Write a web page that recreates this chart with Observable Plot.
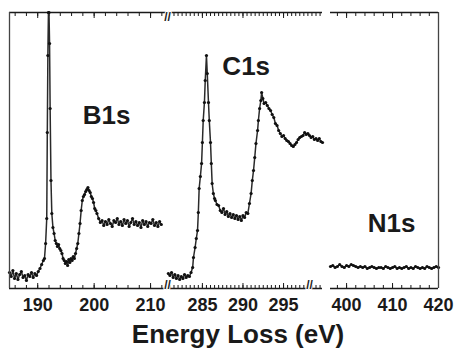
<!DOCTYPE html>
<html><head><meta charset="utf-8">
<script src="https://cdn.jsdelivr.net/npm/d3@7"></script>
<script src="https://cdn.jsdelivr.net/npm/@observablehq/plot@0.6"></script>
<style>
body{margin:0;background:#fff;}
#chart{position:relative;width:457px;height:350px;font-family:"Liberation Sans",Arial,sans-serif;overflow:hidden;}
.panel{position:absolute;top:0;}
#xlabel{position:absolute;left:0;width:476px;text-align:center;top:321px;font-size:26px;line-height:26px;font-weight:bold;color:#1a1a1a;}
</style></head><body>
<div id="chart"><div id="xlabel">Energy Loss (eV)</div></div>
<script>
// ---- data (intensity in arbitrary units) ----
const b1sEnergy = [185.0,185.3,185.6,185.9,186.2,186.5,186.8,187.1,187.4,187.7,188.0,188.3,188.6,188.9,189.2,189.5,189.8,190.1,190.4,190.7,191.0,
  191.2,191.4,191.6,191.7,191.8,191.9,192.0,192.1,192.2,192.35,192.5,192.7,192.9,
  193.1,193.3,193.5,193.7,193.9,194.1,194.3,194.5,194.7,194.9,195.1,195.3,195.5,195.7,195.9,196.1,196.3,196.5,196.7,196.9,197.1,197.3,197.5,197.7,197.9,198.1,198.3,198.5,198.7,198.9,199.1,199.3,199.5,199.7,199.9,200.1,200.3,200.5,
  200.8,201.1,201.4,201.7,202.0,202.3,202.6,202.9,203.2,203.5,203.8,204.1,204.4,204.7,205.0,205.3,205.6,205.9,206.2,206.5,206.8,207.1,207.4,207.7,208.0,208.3,208.6,208.9,209.2,209.5,209.8,210.1,210.4,210.7,211.0,211.3,211.6,211.9];
const b1sIntensity = [16,12,18,10,15,9,14,17,11,13,8,14,12,16,11,15,13,17,20,24,28,
  30,45,70,156,233,276,276,245,180,108,75,61,55,
  48,45,42,44,40,38,35,30,28,25,27,23,29,26,30,28,32,30,35,40,45,55,65,78,88,92,94,97,99,101,98,96,92,90,86,80,78,75,
  70,66,68,63,67,64,69,65,62,68,66,70,64,67,63,69,65,68,62,66,70,64,67,63,66,61,68,64,67,62,66,65,69,63,66,62,67,64];

const c1sEnergy = [280.8,281.0,281.2,281.4,281.6,281.8,282.0,282.2,282.4,282.6,282.8,283.0,283.2,283.4,283.6,283.8,
  283.9,284.1,284.25,284.4,284.5,284.6,284.75,284.9,285.0,285.1,285.25,285.35,285.5,285.6,285.75,285.85,286.0,286.1,286.2,286.35,286.5,286.6,
  286.8,287.0,287.2,287.4,287.6,287.8,288.0,288.2,288.4,288.6,288.8,289.0,289.2,289.4,289.6,289.8,290.0,290.2,290.4,290.6,290.8,291.0,
  291.15,291.3,291.45,291.6,291.8,291.9,292.05,292.2,292.3,292.45,292.6,
  292.8,293.0,293.2,293.4,293.6,293.8,294.0,294.2,294.4,294.6,294.8,295.0,295.2,295.4,295.6,295.8,296.0,296.2,296.4,296.6,296.8,297.0,297.2,297.4,297.6,297.8,298.0,298.2,298.4,298.6,298.8,299.0,299.2,299.4,299.6,299.8];
const c1sIntensity = [15,13,16,11,14,10,13,9,12,10,14,11,13,12,16,21,
  31,41,50,58,76,100,112,125,146,168,186,208,233,215,186,168,146,125,105,95,90,88,
  84,83,78,76,80,74,77,72,75,71,74,70,73,69,72,68,73,71,76,75,85,95,
  108,118,131,145,158,168,180,188,196,190,185,
  186,183,180,178,174,171,165,163,158,155,152,153,150,148,147,145,143,142,144,146,149,151,152,153,156,154,155,153,151,152,149,150,148,150,147,146];

const n1sEnergy = [396.5,397,397.5,398,398.5,399,399.5,400,400.5,401,401.5,402,402.5,403,403.5,404,404.5,405,405.5,406,406.5,407,407.5,408,408.5,409,409.5,410,410.5,411,411.5,412,412.5,413,413.5,414,414.5,415,415.5,416,416.5,417,417.5,418,418.5,419,419.5,420];
const n1sIntensity = [22,23,21,22,24,22,21,23,22,24,23,22,21,22,21,22,20,21,22,21,20,21,21,20,22,21,20,21,22,20,21,20,21,22,20,21,20,22,21,20,21,20,22,21,20,21,22,21];

const b1sTickLabels = [190,200,210];
const c1sTickLabels = [285,290,295];
const n1sTickLabels = [400,410,420];
const b1sMinorTicks = [186,188,190,192,194,196,198,200,202,204,206,208,210,212];
const c1sMinorTicks = d3.range(281,299.6,0.5);
const n1sMinorTicks = [398,400,402,404,406,408,410,412,414,416,418,420];

const peakLabels = [
  {panel:0, e:202.2, v:173, text:"B1s"},
  {panel:1, e:290.4, v:222, text:"C1s"},
  {panel:2, e:409.8, v:65,  text:"N1s"}
];
const yDomain = [0, 276];
// ------------------------------------------------------------------

const ink = "#1a1a1a";
function panel(o) {
  const data = o.energy.map((e, i) => ({e, v: o.intensity[i]}));
  const marks = [
    Plot.ruleY([yDomain[0]], {stroke: ink, strokeWidth: 1.3}),
    Plot.ruleY([yDomain[1]], {stroke: ink, strokeWidth: 1.3}),
    Plot.axisX(o.minor, {anchor: "bottom", tickSize: -3, tickFormat: () => "", label: null, stroke: ink}),
    Plot.axisX(o.major, {anchor: "bottom", tickSize: -5, tickFormat: () => "", label: null, stroke: ink}),
    Plot.axisX(o.minor, {anchor: "top", tickSize: -3, tickFormat: () => "", label: null, stroke: ink}),
    Plot.axisX(o.major, {anchor: "top", tickSize: -5, tickFormat: () => "", label: null, stroke: ink}),
    Plot.axisX(o.major, {anchor: "bottom", tickSize: 0, tickPadding: 10, fontSize: 18, fontWeight: "bold", fill: ink, label: null}),
    Plot.line(data, {x: "e", y: "v", stroke: "#2a2a2a", strokeWidth: 1.5}),
    Plot.dot(data, {x: "e", y: "v", r: 1.6, fill: "#111", stroke: "none"}),
    Plot.text(peakLabels.filter(d => d.panel === o.index), {x: "e", y: "v", text: "text", fontSize: 26, fontWeight: "bold", fill: ink})
  ];
  if (o.leftEdge) marks.push(Plot.ruleX([o.domain[0]], {stroke: "#444", strokeWidth: 1.3}));
  if (o.rightEdge) marks.push(Plot.ruleX([o.domain[1]], {stroke: "#444", strokeWidth: 1.3}));
  for (const b of (o.breaksBottom || [])) marks.push(Plot.text([b], {x: d => d, frameAnchor: "bottom", text: () => "//", fontSize: 12, fontWeight: "bold", fill: ink, stroke: "white", strokeWidth: 2, paintOrder: "stroke"}));
  for (const b of (o.breaksTop || [])) marks.push(Plot.text([b], {x: d => d, frameAnchor: "top", text: () => "//", fontSize: 12, fontWeight: "bold", fill: ink, stroke: "white", strokeWidth: 2, paintOrder: "stroke"}));
  const svg = Plot.plot({
    width: o.width, height: 350,
    marginLeft: o.mLeft, marginRight: o.mRight, marginTop: 12, marginBottom: 62,
    x: {domain: o.domain},
    y: {domain: yDomain, axis: null},
    style: {fontFamily: "Liberation Sans, Arial, sans-serif", overflow: "visible", background: "transparent"},
    marks
  });
  const div = document.createElement("div");
  div.className = "panel";
  div.style.left = o.left + "px";
  div.appendChild(svg);
  document.getElementById("chart").appendChild(div);
}

panel({index: 0, left: 0, width: 167, mLeft: 9, mRight: 0, domain: [185, 213],
  energy: b1sEnergy, intensity: b1sIntensity, minor: b1sMinorTicks, major: b1sTickLabels, leftEdge: true});
panel({index: 1, left: 167, width: 155, mLeft: 0, mRight: 0, domain: [280.7, 299.8],
  energy: c1sEnergy, intensity: c1sIntensity, minor: c1sMinorTicks, major: c1sTickLabels,
  breaksBottom: [280.7, 298.2], breaksTop: [280.7]});
panel({index: 2, left: 322, width: 135, mLeft: 8, mRight: 19, domain: [396.5, 420],
  energy: n1sEnergy, intensity: n1sIntensity, minor: n1sMinorTicks, major: n1sTickLabels, rightEdge: true});
</script>
</body></html>
